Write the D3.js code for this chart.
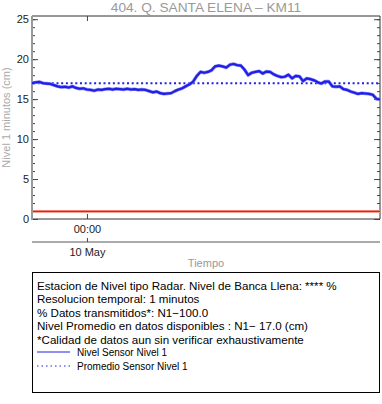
<!DOCTYPE html>
<html>
<head>
<meta charset="utf-8">
<script src="https://cdn.jsdelivr.net/npm/d3@7"></script>
<style>
  body { margin: 0; background: #fff; }
  svg { display: block; font-family: "Liberation Sans", Arial, Helvetica, sans-serif; }
</style>
</head>
<body>
<svg id="chart" width="382" height="404"></svg>
<script>
// serie cada 15 minutos, desde 9 May 20:15
var startTime = "2024-05-09T20:15:00";
var stepMinutes = 15;
var nivel1 = [
  17.0, 17.1, 17.15, 17.0, 16.95, 16.9, 16.75, 16.6, 16.5, 16.55,
  16.45, 16.6, 16.4, 16.3, 16.35, 16.2, 16.15, 16.05, 16.2, 16.15,
  16.25, 16.3, 16.2, 16.3, 16.25, 16.2, 16.3, 16.2, 16.25, 16.15,
  16.2, 16.15, 16.0, 15.85, 15.95, 15.75, 15.65, 15.7, 15.75, 16.0,
  16.2, 16.35, 16.6, 16.85, 17.2, 17.9, 18.4, 18.3, 18.4, 18.6,
  19.1, 19.2, 19.1, 18.95, 19.3, 19.4, 19.25, 19.2, 18.7, 18.0,
  18.3, 18.4, 18.5, 18.2, 18.45, 18.4, 18.1, 17.9, 17.75, 17.8,
  18.05, 17.6, 17.9, 17.85, 17.25, 17.6, 17.5, 17.35, 17.1, 16.95,
  17.2, 17.2, 16.6, 16.55, 16.6, 16.25, 16.15, 15.95, 15.8, 15.65,
  15.75, 15.7, 15.65, 15.55, 15.05, 14.95
];
var promedio1 = 17.0;
var bancaLlena = 0.95;

var yMajorTicks = [0, 5, 10, 15, 20, 25];
var yMinorTicks = d3.range(0, 26);
var xTickTimes = ["2024-05-10T00:00:00"];
var xTickLabels = ["00:00"];
var xDateLabels = ["10 May"];

var infoLines = [
  "Estacion de Nivel tipo Radar. Nivel de Banca Llena: **** %",
  "Resolucion temporal: 1 minutos",
  "% Datos transmitidos*: N1\u2212100.0",
  "Nivel Promedio en datos disponibles : N1\u2212 17.0 (cm)",
  "*Calidad de datos aun sin verificar exhaustivamente"
];
var legendNames = ["Nivel Sensor Nivel 1", "Promedio Sensor Nivel 1"];

var svg = d3.select("#chart");
var pL = 32, pR = 380, pT = 16, pB = 219;
var blue = "#1f1fe8";

var t0 = new Date(startTime);
var datos = nivel1.map(function (v, i) {
  return { t: new Date(t0.getTime() + i * stepMinutes * 60000), v: v };
});
var tickDates = xTickTimes.map(function (s) { return new Date(s); });

var x = d3.scaleTime()
  .domain(d3.extent(datos, function (d) { return d.t; }))
  .range([pL, pR]);
var y = d3.scaleLinear().domain([0, 25.4]).range([pB, pT]);

// titulo
svg.append("text").attr("x", 206).attr("y", 12).attr("text-anchor", "middle")
  .attr("font-size", 13.7).attr("fill", "#999").text("404. Q. SANTA ELENA \u2013 KM11");

// marco
svg.append("line").attr("x1", pL).attr("x2", pR).attr("y1", pT).attr("y2", pT)
  .attr("stroke", "#333").attr("stroke-width", 1);
svg.append("line").attr("x1", pR).attr("x2", pR).attr("y1", pT).attr("y2", pB)
  .attr("stroke", "#333").attr("stroke-width", 1);
svg.append("line").attr("x1", pL).attr("x2", pR).attr("y1", pB).attr("y2", pB)
  .attr("stroke", "#333").attr("stroke-width", 1);

function styleAxis(g) {
  g.select(".domain").remove();
  g.selectAll(".tick line").attr("stroke", "#444");
  g.selectAll(".tick text").attr("fill", "#222").attr("font-size", 11)
    .attr("font-family", "Liberation Sans, Arial, sans-serif");
}

// eje y izquierdo
svg.append("g").attr("transform", "translate(" + pL + ",0)")
  .call(d3.axisLeft(y).tickValues(yMinorTicks).tickSize(-3).tickFormat(""))
  .call(styleAxis);
svg.append("g").attr("transform", "translate(" + pL + ",0)")
  .call(d3.axisLeft(y).tickValues(yMajorTicks).tickSize(-6).tickPadding(3).tickFormat(d3.format("d")))
  .call(styleAxis);
// eje y derecho
svg.append("g").attr("transform", "translate(" + pR + ",0)")
  .call(d3.axisRight(y).tickValues(yMinorTicks).tickSize(-3).tickFormat(""))
  .call(styleAxis);
svg.append("g").attr("transform", "translate(" + pR + ",0)")
  .call(d3.axisRight(y).tickValues(yMajorTicks).tickSize(-6).tickFormat(""))
  .call(styleAxis);
svg.append("line").attr("x1", pL).attr("x2", pL).attr("y1", pT).attr("y2", pB + 1)
  .attr("stroke", "#999").attr("stroke-width", 2);

// eje x
svg.append("g").attr("transform", "translate(0," + pT + ")")
  .call(d3.axisTop(x).tickValues(tickDates).tickSize(-5).tickFormat(""))
  .call(styleAxis);
svg.append("g").attr("transform", "translate(0," + pB + ")")
  .call(d3.axisBottom(x).tickValues(tickDates).tickSize(-5).tickPadding(6)
    .tickFormat(function (d, i) { return xTickLabels[i]; }))
  .call(styleAxis);
svg.append("line").attr("x1", pL).attr("x2", pR).attr("y1", 242).attr("y2", 242)
  .attr("stroke", "#aaa").attr("stroke-width", 2);
svg.append("g").attr("transform", "translate(0,242)")
  .call(d3.axisBottom(x).tickValues(tickDates).tickSize(-4).tickPadding(6)
    .tickFormat(function (d, i) { return xDateLabels[i]; }))
  .call(styleAxis);

svg.append("text").attr("x", 206).attr("y", 267).attr("text-anchor", "middle")
  .attr("font-size", 11).attr("fill", "#999").text("Tiempo");
svg.append("text").attr("transform", "translate(10," + ((pT + pB) / 2) + ") rotate(-90)")
  .attr("text-anchor", "middle").attr("font-size", 11).attr("fill", "#aaa")
  .text("Nivel 1 minutos (cm)");

// linea de banca llena
svg.append("line").attr("x1", pL + 1).attr("x2", pR).attr("y1", y(bancaLlena)).attr("y2", y(bancaLlena))
  .attr("stroke", "#f4a090").attr("stroke-width", 3);
svg.append("line").attr("x1", pL + 1).attr("x2", pR).attr("y1", y(bancaLlena)).attr("y2", y(bancaLlena))
  .attr("stroke", "#e8200f").attr("stroke-width", 1.4);

// promedio
svg.append("line").attr("x1", pL + 1).attr("x2", pR).attr("y1", y(promedio1)).attr("y2", y(promedio1))
  .attr("stroke", blue).attr("stroke-width", 2).attr("stroke-dasharray", "2,2.7");

// serie
var linea = d3.line().x(function (d) { return x(d.t); }).y(function (d) { return y(d.v); });
svg.append("path").datum(datos).attr("d", linea).attr("fill", "none")
  .attr("stroke", "#8a8af5").attr("stroke-width", 3.4).attr("stroke-linejoin", "round");
svg.append("path").datum(datos).attr("d", linea).attr("fill", "none")
  .attr("stroke", blue).attr("stroke-width", 2.2).attr("stroke-linejoin", "round");

// cuadro de informacion
svg.append("rect").attr("x", 32.5).attr("y", 272.5).attr("width", 347).attr("height", 120)
  .attr("fill", "#fff").attr("stroke", "#000").attr("stroke-width", 1);
svg.selectAll("text.info").data(infoLines).enter().append("text")
  .attr("class", "info").attr("x", 37).attr("y", function (d, i) { return 289.5 + i * 13.5; })
  .attr("font-size", 11.6).attr("fill", "#000").text(function (d) { return d; });

var leg = svg.selectAll("g.leg").data(legendNames).enter().append("g")
  .attr("class", "leg").attr("transform", function (d, i) { return "translate(37," + (352 + i * 14) + ")"; });
leg.append("line").attr("x1", 0).attr("x2", 33).attr("y1", 0).attr("y2", 0)
  .attr("stroke", blue).attr("stroke-width", 1.2)
  .attr("stroke-dasharray", function (d, i) { return i === 1 ? "1.5,3" : null; });
leg.append("text").attr("x", 40).attr("y", 3.5).attr("font-size", 10).attr("fill", "#000")
  .text(function (d) { return d; });
</script>
</body>
</html>
